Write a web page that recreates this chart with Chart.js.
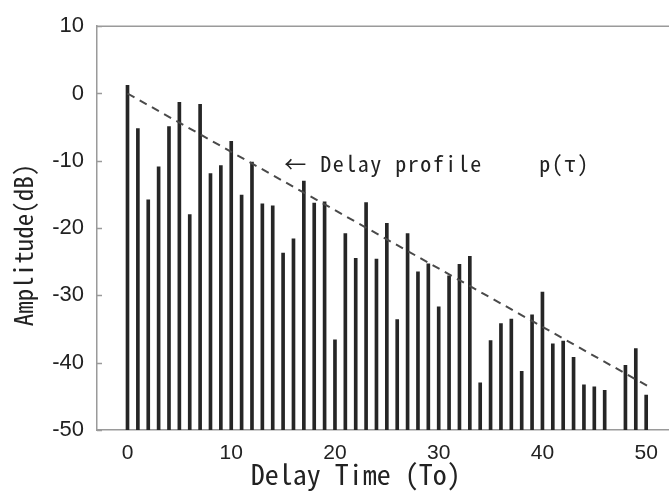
<!DOCTYPE html>
<html>
<head>
<meta charset="utf-8">
<script src="https://cdn.jsdelivr.net/npm/chart.js@4"></script>
<style>
  body { margin: 0; background: #fff; }
  canvas { display: block; }
</style>
</head>
<body>
<canvas id="delayChart" width="669" height="493"></canvas>
<script>
// delay taps (units of To) and their amplitudes in dB; tap 47 is absent
const delays = [0, 1, 2, 3, 4, 5, 6, 7, 8, 9, 10, 11, 12, 13, 14, 15, 16, 17, 18, 19,
    20, 21, 22, 23, 24, 25, 26, 27, 28, 29, 30, 31, 32, 33, 34, 35, 36, 37, 38, 39,
    40, 41, 42, 43, 44, 45, 46, 47, 48, 49, 50];
const amplitudes = [1.2, -5.2, -15.8, -10.9, -4.9, -1.3, -18.0, -1.6, -11.9, -10.7,
    -7.1, -15.1, -10.2, -16.4, -16.7, -23.7, -21.6, -13.0, -16.3, -16.1,
    -36.6, -20.8, -24.5, -16.2, -24.6, -19.3, -33.6, -20.8, -26.5, -25.3,
    -31.7, -27.1, -25.4, -24.2, -43.0, -36.7, -34.2, -33.5, -41.3, -32.9,
    -29.5, -37.2, -36.8, -39.2, -43.3, -43.6, -44.1, null, -40.4, -37.9, -44.8];

// exponential delay profile p(tau), a straight line in dB
const profileX = [0, 50.3];
const profileY = [0, -43.6];

const xTicks = [0, 10, 20, 30, 40, 50];
const yTicks = [10, 0, -10, -20, -30, -40, -50];
const yFloor = -50;

const xTitle = 'Delay Time (To)';
const yTitle = 'Amplitude(dB)';
const profileLabel = '← Delay profile';
const profileSymbol = 'p(τ)';

const monoFont = "'Noto Sans Mono CJK JP', 'DejaVu Sans Mono', monospace";
const tickFont = "'Liberation Sans Narrow', 'Liberation Sans', sans-serif";
const textColor = '#222';
const axisColor = '#9a9a9a';

const barData = [];
delays.forEach((d, i) => {
    if (amplitudes[i] !== null) barData.push({ x: d, y: [yFloor, amplitudes[i]] });
});
const profileData = profileX.map((x, i) => ({ x: x, y: profileY[i] }));

// inward ticks on the left axis, top frame line, axis titles and the profile label
const framePlugin = {
    id: 'frame',
    afterDraw(chart) {
        const ctx = chart.ctx;
        const area = chart.chartArea;
        const y = chart.scales.y;
        const x = chart.scales.x;
        ctx.save();
        ctx.strokeStyle = axisColor;
        ctx.lineWidth = 1.5;
        ctx.beginPath();
        ctx.moveTo(area.left, area.top);
        ctx.lineTo(area.right, area.top);
        yTicks.forEach(v => {
            const py = Math.round(y.getPixelForValue(v)) + 0.5;
            ctx.moveTo(area.left, py);
            ctx.lineTo(area.left + 5, py);
        });
        ctx.stroke();

        ctx.fillStyle = textColor;
        ctx.textBaseline = 'middle';
        ctx.textAlign = 'left';
        ctx.font = '22px ' + monoFont;
        ctx.letterSpacing = '1.5px';
        const ly = y.getPixelForValue(-10.4);
        ctx.fillText(profileLabel, x.getPixelForValue(15.1), ly);
        ctx.fillText(profileSymbol, x.getPixelForValue(39.7), ly);

        // x title
        ctx.letterSpacing = '0px';
        ctx.font = '28px ' + monoFont;
        ctx.textAlign = 'center';
        ctx.textBaseline = 'alphabetic';
        ctx.fillText(xTitle, x.getPixelForValue(22), 485);

        // y title, rotated
        ctx.font = '25px ' + monoFont;
        ctx.translate(33, y.getPixelForValue(-22.5));
        ctx.rotate(-Math.PI / 2);
        ctx.fillText(yTitle, 0, 0);
        ctx.restore();
    }
};

new Chart(document.getElementById('delayChart').getContext('2d'), {
    type: 'bar',
    data: {
        datasets: [{
            type: 'line',
            data: profileData,
            borderColor: '#4a4a4a',
            borderWidth: 2,
            borderDash: [8, 6],
            pointRadius: 0,
            fill: false,
            order: 0
        }, {
            data: barData,
            backgroundColor: '#262626',
            barThickness: 3,
            order: 1
        }]
    },
    options: {
        responsive: false,
        animation: false,
        layout: { padding: { top: 16, left: 0, right: 0, bottom: 0 } },
        plugins: {
            legend: { display: false },
            tooltip: { enabled: false }
        },
        scales: {
            x: {
                type: 'linear',
                min: -2.94,
                max: 52.2,
                offset: false,
                grid: { display: false, drawTicks: false, tickLength: 0 },
                border: { color: axisColor, width: 1.5 },
                afterBuildTicks: scale => { scale.ticks = xTicks.map(v => ({ value: v })); },
                afterFit: scale => { scale.height = 63; },
                ticks: {
                    color: textColor,
                    padding: 11,
                    maxRotation: 0,
                    font: { family: tickFont, size: 21 }
                }
            },
            y: {
                min: -50,
                max: 10,
                grid: { display: false, drawTicks: false, tickLength: 0 },
                border: { color: axisColor, width: 1.5 },
                afterBuildTicks: scale => { scale.ticks = yTicks.map(v => ({ value: v })); },
                afterFit: scale => { scale.width = 97; },
                ticks: {
                    color: textColor,
                    padding: 13,
                    font: { family: tickFont, size: 22 }
                }
            }
        }
    },
    plugins: [framePlugin]
});
</script>
</body>
</html>
